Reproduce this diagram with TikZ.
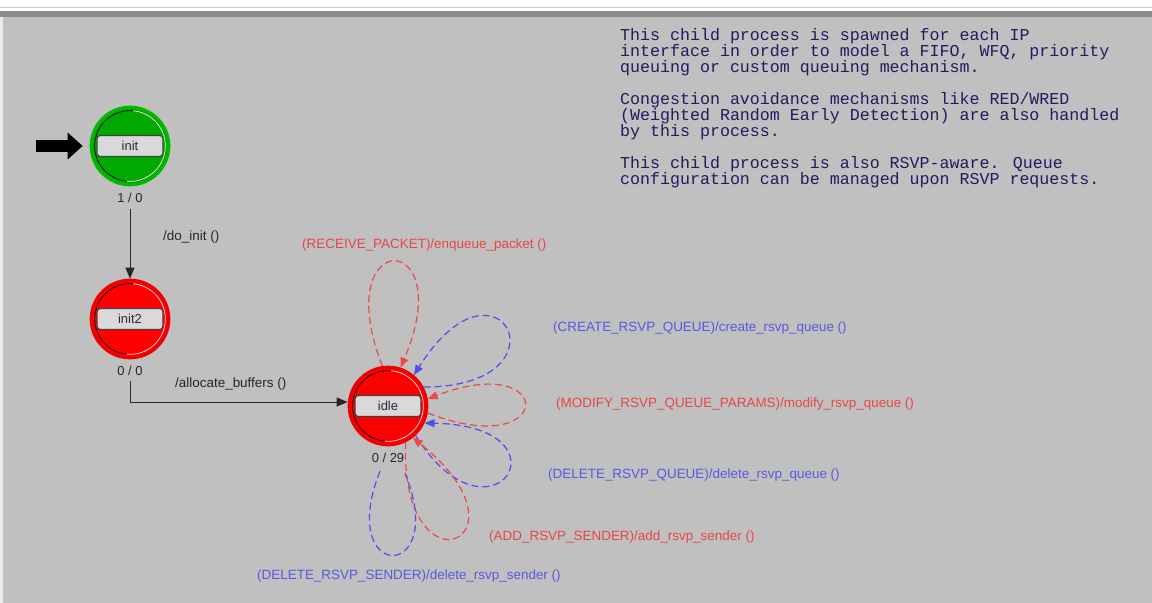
\documentclass[tikz,border=0pt]{standalone}
\usepackage{fontspec}
\setmainfont{Liberation Sans}
\newfontfamily\notefont{Liberation Mono}
\usetikzlibrary{positioning,arrows.meta}

\definecolor{canvas}{RGB}{192,192,192}
\definecolor{fgreen}{RGB}{0,168,0}
\definecolor{fgreenring}{RGB}{0,186,0}
\definecolor{ured}{RGB}{255,0,0}
\definecolor{uredring}{RGB}{238,0,0}
\definecolor{lred}{RGB}{240,70,70}
\definecolor{lblue}{RGB}{78,78,238}
\definecolor{tred}{RGB}{232,70,70}
\definecolor{tblue}{RGB}{88,88,226}
\definecolor{notecol}{RGB}{44,22,96}
\definecolor{namecol}{RGB}{40,40,64}

\begin{document}
\begin{tikzpicture}[x=1bp, y=-1bp,
  state/.style = {circle, minimum size=78pt, inner sep=0pt, line width=3pt,
    path picture={
      \draw[black, line width=0.7pt] (path picture bounding box.center)
        ++(85:35.5pt) arc[start angle=85, end angle=265, radius=35.5pt];
      \draw[white!55!pink, line width=0.7pt] (path picture bounding box.center)
        ++(-95:35.5pt) arc[start angle=-95, end angle=85, radius=35.5pt];
    }},
  forced/.style = {state, fill=fgreen, draw=fgreenring},
  unforced/.style = {state, fill=ured, draw=uredring},
  stname/.style = {draw=black!75, fill=black!15, line width=1.2pt, rounded corners=3pt,
    minimum width=66pt, minimum height=21pt, inner sep=0pt, text=namecol,
    font=\fontsize{13}{15}\selectfont},
  stcount/.style = {inner sep=1pt, text=black!85, font=\fontsize{13}{15}\selectfont},
  trans/.style = {draw=black!85, line width=0.9pt, -{Triangle[length=11pt, width=9pt]}},
  inarrow/.style = {draw=black, line width=13pt, shorten >=7pt, -{Triangle[length=15pt, width=26pt]}},
  selfred/.style = {draw=lred, line width=1.2pt, dash pattern=on 7pt off 4pt,
    -{Triangle[length=10pt, width=8pt]}},
  selfblue/.style = {selfred, draw=lblue},
  exec/.style = {anchor=west, inner sep=0pt, text=black!85, font=\fontsize{13.5}{16}\selectfont},
  condred/.style = {exec, text=tred},
  condblue/.style = {exec, text=tblue},
  note/.style = {anchor=north west, inner sep=0pt, align=left, text=notecol,
    font=\notefont\fontsize{16.7}{16}\selectfont},
  ]
  \useasboundingbox (0,0) rectangle (1152,603);
  \fill[white] (-5,-5) rectangle (1160,610);
  \fill[canvas] (-5,16) rectangle (1160,610);
  \fill[black!45] (-5,11) rectangle (1160,17);
  \draw[black!20, line width=1pt] (-5,8) -- (1160,8);
  \fill[black!8] (-5,17) rectangle (3,610);

  \node[forced, label={[stname]center:init}] (init) at (130,146) {};
  \node[stcount, below=6pt of init] (init-n) {1 / 0};
  \node[unforced, label={[stname]center:init2}] (init2) at (130,319) {};
  \node[stcount, below=6pt of init2] (init2-n) {0 / 0};
  \node[unforced, label={[stname]center:idle}] (idle) at (388,406) {};
  \node[stcount, below=6pt of idle] (idle-n) {0 / 29};

  \coordinate (entry) at (36,146);
  \draw[inarrow] (entry) -- (init);

  \draw[trans, shorten <=5pt] (init-n) -- (init2);
  \node[exec] (doinit) at (163,237) {/do\_init ()};
  \draw[trans, shorten <=4pt] (init2-n.south) |- ([yshift=4pt]idle.west);
  \node[exec] (alloc) at (175,384) {/allocate\_buffers ()};

  \draw[selfred] (idle.98) .. controls +(-55,-140) and +(60,-140) .. (idle.72);
  \draw[selfblue] (idle.28) .. controls +(150,0) and +(85,-135) .. (idle.50);
  \draw[selfred] (idle.-10) .. controls +(129,50) and +(129,-50) .. (idle.10);
  \draw[selfblue] (idle.-47) .. controls +(76,121) and +(152,3) .. (idle.-25);
  \draw[selfred] (idle.-64) .. controls +(-6,158) and +(127,102) .. (idle.-52);
  \draw[selfblue, -] ([xshift=-8pt, yshift=-7pt]idle-n.south)
    .. controls +(-45,112) and +(45,110) .. ([xshift=17pt, yshift=-9pt]idle-n.south);

  \node[condred] (recv) at (302,245) {(RECEIVE\_PACKET)/enqueue\_packet ()};
  \node[condblue] (create) at (553,328) {(CREATE\_RSVP\_QUEUE)/create\_rsvp\_queue ()};
  \node[condred] (modify) at (556,404) {(MODIFY\_RSVP\_QUEUE\_PARAMS)/modify\_rsvp\_queue ()};
  \node[condblue] (delq) at (548,475) {(DELETE\_RSVP\_QUEUE)/delete\_rsvp\_queue ()};
  \node[condred] (adds) at (489,537) {(ADD\_RSVP\_SENDER)/add\_rsvp\_sender ()};
  \node[condblue] (dels) at (257,576) {(DELETE\_RSVP\_SENDER)/delete\_rsvp\_sender ()};

  \node[note] (comment) at (620,28.5) {This child process is spawned for each IP\\
    interface in order to model a FIFO, WFQ, priority\\
    queuing or custom queuing mechanism.\\[16pt]
    Congestion avoidance mechanisms like RED/WRED\\
    (Weighted Random Early Detection) are also handled\\
    by this process.\\[16pt]
    This child process is also RSVP-aware. Queue\\
    configuration can be managed upon RSVP requests.};
\end{tikzpicture}
\end{document}
